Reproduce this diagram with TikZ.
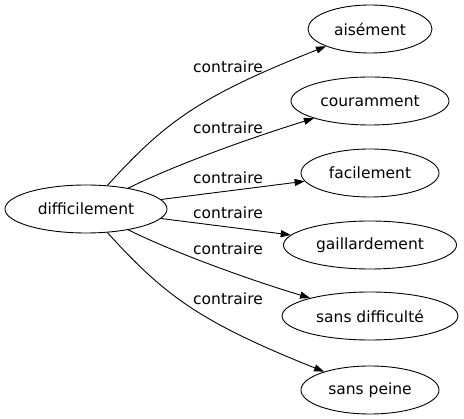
\documentclass[tikz,border=0pt]{standalone}
\usepackage{fontspec}
\setmainfont{DejaVu Sans}
\usetikzlibrary{shapes.geometric, arrows.meta}
\begin{document}
\begin{tikzpicture}[x = 1pt, y = -1pt, every node/.style = {font = \fontsize{15.5}{18}\selectfont},
    word/.style = {ellipse, draw, inner sep = 0pt, minimum height = 48pt, line width = 0.9pt},
    rel/.style = {-{Triangle[length = 10pt, width = 7pt]}, line width = 0.9pt}]

    \useasboundingbox (0, 0) rectangle (464, 419);

    \node (diff) at (86, 209) [word, minimum width = 162pt] {difficilement};

    \node (a1) at (370, 29) [word, minimum width = 124pt] {aisément};
    \node (a2) at (370, 101) [word, minimum width = 158pt] {couramment};
    \node (a3) at (370, 173) [word, minimum width = 138pt] {facilement};
    \node (a4) at (370, 245) [word, minimum width = 173pt] {gaillardement};
    \node (a5) at (370, 316) [word, minimum width = 176pt] {sans difficulté};
    \node (a6) at (370, 390) [word, minimum width = 138pt] {sans peine};

    \node (l1) at (228, 67) {contraire};
    \node (l2) at (228, 128) {contraire};
    \node (l3) at (228, 178) {contraire};
    \node (l4) at (228, 213) {contraire};
    \node (l5) at (228, 249) {contraire};
    \node (l6) at (228, 299) {contraire};

    \draw [rel] (diff) .. controls (165, 122) and (200, 96) .. (a1);
    \draw [rel] (diff) .. controls (175, 165) and (250, 138) .. (a2);
    \draw [rel] (diff) -- (a3);
    \draw [rel] (diff) -- (a4);
    \draw [rel] (diff) .. controls (175, 253) and (250, 280) .. (a5);
    \draw [rel] (diff) .. controls (165, 296) and (200, 322) .. (a6);

\end{tikzpicture}
\end{document}
